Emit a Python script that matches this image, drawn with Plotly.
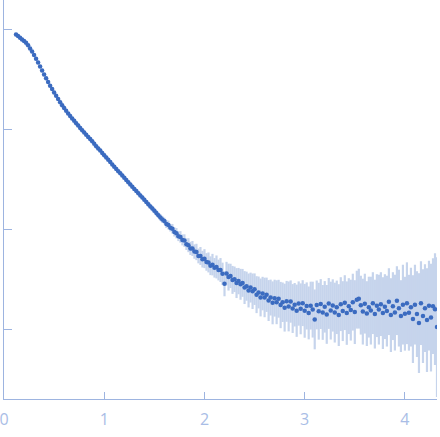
import plotly.graph_objects as go

# scattering vector q (x axis)
q = [
    0.12, 0.14, 0.16, 0.18, 0.20, 0.22, 0.24, 0.26, 0.28, 0.30,
    0.32, 0.34, 0.36, 0.38, 0.40, 0.42, 0.44, 0.46, 0.48, 0.50,
    0.52, 0.54, 0.56, 0.58, 0.60, 0.62, 0.64, 0.66, 0.68, 0.70,
    0.72, 0.74, 0.76, 0.78, 0.80, 0.82, 0.84, 0.86, 0.88, 0.90,
    0.92, 0.94, 0.96, 0.98, 1.00, 1.02, 1.04, 1.06, 1.08, 1.10,
    1.12, 1.14, 1.16, 1.18, 1.20, 1.22, 1.24, 1.26, 1.28, 1.30,
    1.32, 1.34, 1.36, 1.38, 1.40, 1.42, 1.44, 1.46, 1.48, 1.50,
    1.52, 1.54, 1.56, 1.58, 1.60, 1.62, 1.64, 1.66, 1.68, 1.70,
    1.72, 1.74, 1.76, 1.78, 1.80, 1.82, 1.84, 1.86, 1.88, 1.90,
    1.92, 1.94, 1.96, 1.98, 2.00, 2.02, 2.04, 2.06, 2.08, 2.10,
    2.12, 2.14, 2.16, 2.18, 2.20, 2.22, 2.24, 2.26, 2.28, 2.30,
    2.32, 2.34, 2.36, 2.38, 2.40, 2.42, 2.44, 2.46, 2.48, 2.50,
    2.52, 2.54, 2.56, 2.58, 2.60, 2.62, 2.64, 2.66, 2.68, 2.70,
    2.72, 2.74, 2.76, 2.78, 2.80, 2.82, 2.84, 2.86, 2.88, 2.90,
    2.92, 2.94, 2.96, 2.98, 3.00, 3.02, 3.04, 3.06, 3.08, 3.10,
    3.12, 3.14, 3.16, 3.18, 3.20, 3.22, 3.24, 3.26, 3.28, 3.30,
    3.32, 3.34, 3.36, 3.38, 3.40, 3.42, 3.44, 3.46, 3.48, 3.50,
    3.52, 3.54, 3.56, 3.58, 3.60, 3.62, 3.64, 3.66, 3.68, 3.70,
    3.72, 3.74, 3.76, 3.78, 3.80, 3.82, 3.84, 3.86, 3.88, 3.90,
    3.92, 3.94, 3.96, 3.98, 4.00, 4.02, 4.04, 4.06, 4.08, 4.10,
    4.12, 4.14, 4.16, 4.18, 4.20, 4.22, 4.24, 4.26, 4.28, 4.30,
    4.32,
]

# log10 intensity
log_i = [
    -0.045, -0.062, -0.078, -0.095, -0.112, -0.128, -0.154, -0.186, -0.217, -0.251,
    -0.288, -0.327, -0.367, -0.407, -0.447, -0.485, -0.523, -0.559, -0.593, -0.628,
    -0.661, -0.693, -0.724, -0.754, -0.783, -0.810, -0.837, -0.862, -0.887, -0.911,
    -0.935, -0.958, -0.982, -1.005, -1.028, -1.051, -1.074, -1.094, -1.117, -1.140,
    -1.165, -1.188, -1.210, -1.233, -1.256, -1.279, -1.302, -1.325, -1.348, -1.371,
    -1.394, -1.417, -1.438, -1.460, -1.482, -1.504, -1.527, -1.550, -1.572, -1.594,
    -1.616, -1.638, -1.659, -1.681, -1.703, -1.725, -1.747, -1.769, -1.791, -1.813,
    -1.836, -1.858, -1.880, -1.900, -1.915, -1.946, -1.956, -1.983, -1.993, -2.025,
    -2.038, -2.068, -2.075, -2.105, -2.112, -2.148, -2.158, -2.190, -2.191, -2.222,
    -2.226, -2.266, -2.266, -2.298, -2.293, -2.326, -2.331, -2.364, -2.353, -2.385,
    -2.376, -2.407, -2.407, -2.445, -2.545, -2.443, -2.478, -2.466, -2.506, -2.500,
    -2.538, -2.518, -2.550, -2.536, -2.583, -2.569, -2.612, -2.583, -2.620, -2.599,
    -2.654, -2.632, -2.682, -2.643, -2.682, -2.655, -2.713, -2.683, -2.736, -2.689,
    -2.730, -2.695, -2.758, -2.730, -2.784, -2.721, -2.772, -2.723, -2.793, -2.755,
    -2.815, -2.743, -2.796, -2.739, -2.816, -2.767, -2.837, -2.764, -2.804, -2.902,
    -2.757, -2.820, -2.748, -2.832, -2.776, -2.852, -2.742, -2.814, -2.762, -2.834,
    -2.781, -2.859, -2.749, -2.819, -2.734, -2.839, -2.769, -2.809, -2.729, -2.829,
    -2.704, -2.694, -2.759, -2.824, -2.744, -2.844, -2.779, -2.814, -2.739, -2.849,
    -2.764, -2.804, -2.749, -2.839, -2.774, -2.819, -2.724, -2.859, -2.769, -2.834,
    -2.714, -2.789, -2.869, -2.754, -2.845, -2.740, -2.835, -2.779, -2.899, -2.754,
    -2.849, -2.939, -2.739, -2.869, -2.789, -2.909, -2.764, -2.884, -2.769, -2.799,
    -2.979,
]

# error (log10 units)
log_err = [
    0.012, 0.008, 0.006, 0.005, 0.005, 0.004, 0.004, 0.004, 0.004, 0.004,
    0.004, 0.004, 0.004, 0.004, 0.004, 0.004, 0.004, 0.004, 0.004, 0.004,
    0.004, 0.004, 0.004, 0.004, 0.004, 0.004, 0.004, 0.004, 0.004, 0.004,
    0.005, 0.005, 0.005, 0.005, 0.005, 0.005, 0.005, 0.005, 0.005, 0.005,
    0.005, 0.006, 0.005, 0.006, 0.006, 0.007, 0.006, 0.007, 0.008, 0.007,
    0.008, 0.009, 0.010, 0.009, 0.011, 0.012, 0.011, 0.013, 0.014, 0.013,
    0.015, 0.017, 0.016, 0.019, 0.021, 0.020, 0.024, 0.022, 0.027, 0.026,
    0.030, 0.028, 0.034, 0.036, 0.033, 0.040, 0.044, 0.038, 0.048, 0.046,
    0.052, 0.049, 0.058, 0.055, 0.063, 0.058, 0.070, 0.066, 0.075, 0.072,
    0.082, 0.074, 0.090, 0.084, 0.095, 0.088, 0.100, 0.094, 0.108, 0.098,
    0.115, 0.104, 0.120, 0.112, 0.125, 0.118, 0.135, 0.122, 0.140, 0.128,
    0.150, 0.132, 0.155, 0.140, 0.165, 0.146, 0.170, 0.150, 0.178, 0.158,
    0.185, 0.160, 0.190, 0.168, 0.198, 0.172, 0.205, 0.180, 0.215, 0.185,
    0.220, 0.190, 0.232, 0.198, 0.240, 0.205, 0.250, 0.212, 0.245, 0.218,
    0.262, 0.222, 0.255, 0.230, 0.270, 0.236, 0.265, 0.240, 0.280, 0.300,
    0.245, 0.285, 0.250, 0.275, 0.258, 0.295, 0.255, 0.290, 0.262, 0.300,
    0.268, 0.310, 0.270, 0.300, 0.275, 0.318, 0.280, 0.305, 0.285, 0.320,
    0.290, 0.300, 0.295, 0.330, 0.300, 0.325, 0.305, 0.340, 0.310, 0.345,
    0.315, 0.350, 0.320, 0.360, 0.325, 0.355, 0.335, 0.370, 0.340, 0.380,
    0.345, 0.385, 0.360, 0.400, 0.370, 0.410, 0.380, 0.395, 0.440, 0.400,
    0.430, 0.500, 0.420, 0.470, 0.440, 0.520, 0.450, 0.540, 0.480, 0.560,
    0.700,
]

x_ticks = [0, 1, 2, 3, 4]
y_ticks = [-3, -2, -1, 0]

AXIS = "#9db4e0"
LABEL = "#a9bde6"

fig = go.Figure(
    go.Scatter(
        x=q,
        y=log_i,
        mode="markers",
        marker=dict(size=4.5, color="#3b6bc0", line=dict(width=0)),
        error_y=dict(type="data", array=log_err, color="#c6d4ec",
                     thickness=2.2, width=0),
        showlegend=False,
    )
)

fig.update_layout(
    width=440,
    height=437,
    margin=dict(l=4, r=3, t=0, b=38, autoexpand=False),
    paper_bgcolor="white",
    plot_bgcolor="white",
    font=dict(family="Open Sans", size=16, color=LABEL),
)
fig.update_xaxes(
    range=[0, 4.32],
    tickvals=x_ticks,
    showline=True, linecolor=AXIS, linewidth=1,
    ticks="inside", ticklen=7, tickcolor=AXIS,
    showgrid=False, zeroline=False,
    automargin=False, ticklabeloverflow="allow",
    ticklabelstandoff=6,
    tickfont=dict(size=16, color=LABEL),
)
fig.update_yaxes(
    range=[-3.70, 0.30],
    tickvals=y_ticks,
    showticklabels=False,
    showline=True, linecolor=AXIS, linewidth=1,
    ticks="inside", ticklen=8, tickcolor=AXIS,
    showgrid=False, zeroline=False,
    automargin=False,
)

fig.write_html(
    "out.html",
    config={"displayModeBar": False},
    post_script="document.body.style.margin='0';document.body.style.overflow='hidden';",
)
